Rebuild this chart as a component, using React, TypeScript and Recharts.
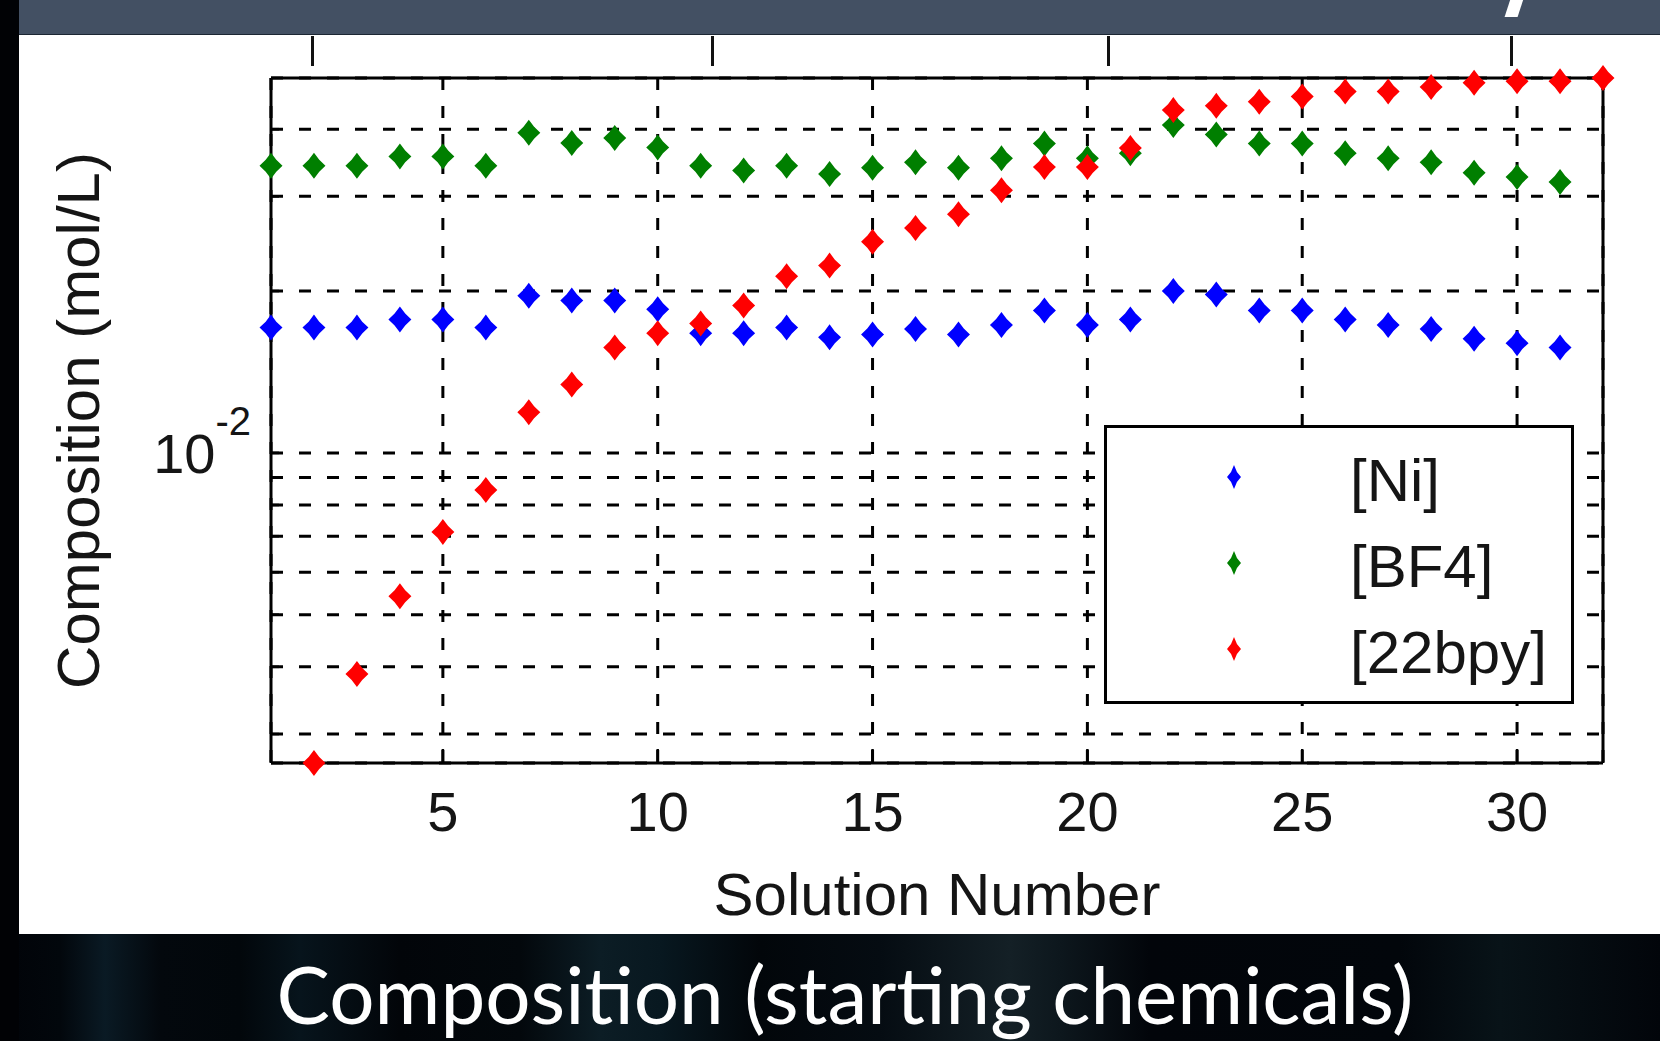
import React from "react";
import {
  ScatterChart,
  Scatter,
  XAxis,
  YAxis,
  CartesianGrid,
  Legend,
} from "recharts";

// solution numbers (the 22bpy series is plotted one step to the right)
const SOLUTIONS = [1, 2, 3, 4, 5, 6, 7, 8, 9, 10, 11, 12, 13, 14, 15, 16, 17, 18, 19, 20, 21, 22, 23, 24, 25, 26, 27, 28, 29, 30, 31];
const BPY_SOLUTIONS = [2, 3, 4, 5, 6, 7, 8, 9, 10, 11, 12, 13, 14, 15, 16, 17, 18, 19, 20, 21, 22, 23, 24, 25, 26, 27, 28, 29, 30, 31, 32];

// composition in mol/L
const NI = [
  0.0171, 0.0171, 0.0171, 0.0177, 0.0177, 0.0171, 0.0196, 0.0192, 0.0192, 0.0185,
  0.0167, 0.0167, 0.0171, 0.0164, 0.0166, 0.017, 0.0166, 0.0173, 0.0184, 0.0173,
  0.0177, 0.02, 0.0197, 0.0184, 0.0184, 0.0177, 0.0173, 0.017, 0.0163, 0.016, 0.0157,
];
const BF4 = [
  0.0342, 0.0342, 0.0342, 0.0356, 0.0356, 0.0342, 0.0394, 0.0377, 0.0385, 0.037,
  0.0342, 0.0335, 0.0342, 0.033, 0.0339, 0.0347, 0.0339, 0.0353, 0.0376, 0.0353,
  0.0361, 0.0407, 0.0391, 0.0376, 0.0376, 0.0361, 0.0353, 0.0347, 0.0332, 0.0326, 0.0319,
];
const BPY = [
  0.00265, 0.00388, 0.00541, 0.00713, 0.00853, 0.0119, 0.0134, 0.0157, 0.0167, 0.0174,
  0.0188, 0.0213, 0.0223, 0.0247, 0.0262, 0.0278, 0.0308, 0.034, 0.034, 0.0369,
  0.0434, 0.0442, 0.045, 0.046, 0.047, 0.047, 0.0479, 0.0488, 0.0491, 0.0491, 0.0498,
];

const SERIES_NAMES = ["[Ni]", "[BF4]", "[22bpy]"];
const X_TICKS = [5, 10, 15, 20, 25, 30];
const Y_TICKS = [0.003, 0.004, 0.005, 0.006, 0.007, 0.008, 0.009, 0.01, 0.02, 0.03, 0.04];
const X_DOMAIN: [number, number] = [1, 32];
const Y_DOMAIN: [number, number] = [0.00265, 0.0498];

const niData = SOLUTIONS.map((x, i) => ({ x, y: NI[i] }));
const bf4Data = SOLUTIONS.map((x, i) => ({ x, y: BF4[i] }));
const bpyData = BPY_SOLUTIONS.map((x, i) => ({ x, y: BPY[i] }));

const FONT = '"Liberation Sans", Arial, Helvetica, sans-serif';
const INK = "#151515";

// matlab-ish 'd' marker, sides a little pinched
const diamondPath = (cx: number, cy: number, w: number, h: number, k: number) =>
  `M${cx},${cy - h} L${cx + w * k},${cy - h * k} L${cx + w},${cy} L${cx + w * k},${cy + h * k} ` +
  `L${cx},${cy + h} L${cx - w * k},${cy + h * k} L${cx - w},${cy} L${cx - w * k},${cy - h * k} Z`;

const Diamond = (props: any) => {
  const { cx, cy, fill } = props;
  if (cx == null || cy == null) return null;
  return <path d={diamondPath(cx, cy, 11.5, 13, 0.46)} fill={fill} />;
};

const LeftTick = (props: any) => {
  const { x, y, payload } = props;
  if (Math.abs(payload.value - 0.01) > 1e-9) return null;
  return (
    <text x={x} y={y} textAnchor="end" fill={INK} fontFamily={FONT}>
      <tspan fontSize={56} dy={20}>10</tspan>
      <tspan fontSize={40} dy={-38}>-2</tspan>
    </text>
  );
};

const renderLegend = ({ payload }: any) => {
  // keep plotting order, not the alphabetical one
  const items = [...(payload || [])].sort(
    (a: any, b: any) => SERIES_NAMES.indexOf(a.value) - SERIES_NAMES.indexOf(b.value)
  );
  return (
    <div
      style={{
        width: 470,
        height: 279,
        boxSizing: "border-box",
        border: "3px solid #000",
        background: "#fff",
        paddingTop: 6,
      }}
    >
      {items.map((entry: any) => (
        <div key={entry.value} style={{ display: "flex", alignItems: "center", height: 86 }}>
          <svg width={16} height={26} style={{ marginLeft: 119 }}>
            <path d={diamondPath(8, 13, 7, 12, 0.42)} fill={entry.color} />
          </svg>
          <span
            style={{
              marginLeft: 108,
              marginTop: 8,
              fontFamily: FONT,
              fontSize: 60,
              lineHeight: 1,
              color: INK,
            }}
          >
            {entry.value}
          </span>
        </div>
      ))}
    </div>
  );
};

const abs = (s: React.CSSProperties): React.CSSProperties => ({ position: "absolute", ...s });

export default function App() {
  return (
    <div style={abs({ left: 0, top: 0, width: 1660, height: 1041, overflow: "hidden", background: "#fff" })}>
      {/* slide chrome */}
      <div style={abs({ left: 0, top: 0, width: 1660, height: 35, background: "#435063", borderBottom: "1px solid #1c2633", boxSizing: "border-box" })} />
      <div style={abs({ left: 1508, top: -4, width: 13, height: 21, background: "#fff", transform: "skewX(-18deg)", borderRadius: "0 0 4 5" })} />
      <div
        style={abs({
          left: 0,
          top: 934,
          width: 1660,
          height: 107,
          background:
            "linear-gradient(90deg, #010308 0px, #02070c 60px, #0a1a24 105px, #03080d 160px, #02070b 240px, #07141c 300px, #020509 400px, #03080c 520px, #0c1d25 600px, #081820 660px, #02060a 760px, #050c12 880px, #142026 1010px, #0d171d 1060px, #02050a 1150px, #02060b 1400px, #081318 1500px, #02050a 1660px)",
        })}
      >
        <div
          style={abs({
            left: 0,
            top: 19,
            width: 1690,
            textAlign: "center",
            fontFamily: "Lato, 'Open Sans', sans-serif",
            fontSize: 80,
            lineHeight: 1,
            color: "#fff",
            whiteSpace: "nowrap",
          })}
        >
          Composition (starting chemicals)
        </div>
      </div>
      <div style={abs({ left: 0, top: 0, width: 19, height: 1041, background: "#010205" })} />

      {/* axis ticks of the plot above, cut off by the slide */}
      {[312, 712, 1108, 1511].map((x) => (
        <div key={x} style={abs({ left: x - 1, top: 36, width: 3, height: 30, background: "#111" })} />
      ))}

      <div style={abs({ left: 0, top: 0 })}>
        <ScatterChart width={1660} height={1041} margin={{ top: 60, right: 40, bottom: 118, left: 20 }}>
          <CartesianGrid stroke="#000" strokeWidth={3} strokeDasharray="12 16" />
          <XAxis
            type="number"
            dataKey="x"
            domain={X_DOMAIN}
            ticks={X_TICKS}
            interval={0}
            height={160}
            tickSize={-14}
            tickMargin={42}
            axisLine={{ stroke: "#000", strokeWidth: 3 }}
            tickLine={{ stroke: "#000", strokeWidth: 2.5 }}
            tick={{ fill: INK, fontSize: 56, fontFamily: FONT }}
            label={{
              value: "Solution Number",
              position: "insideBottom",
              offset: 8,
              fill: INK,
              fontSize: 60,
              fontFamily: FONT,
            }}
          />
          <XAxis
            xAxisId="top"
            orientation="top"
            type="number"
            domain={X_DOMAIN}
            ticks={X_TICKS}
            interval={0}
            height={18}
            tickSize={-14}
            tick={false}
            axisLine={{ stroke: "#000", strokeWidth: 3 }}
            tickLine={{ stroke: "#000", strokeWidth: 2.5 }}
          />
          <YAxis
            type="number"
            dataKey="y"
            scale="log"
            domain={Y_DOMAIN}
            ticks={Y_TICKS}
            interval={0}
            width={251}
            tickSize={-8}
            tickMargin={28}
            axisLine={{ stroke: "#000", strokeWidth: 3 }}
            tickLine={{ stroke: "#000", strokeWidth: 2.5 }}
            tick={LeftTick}
            label={{
              value: "Composition (mol/L)",
              angle: -90,
              position: "insideLeft",
              offset: 58,
              fill: INK,
              fontSize: 60,
              fontFamily: FONT,
              style: { textAnchor: "middle" },
            }}
          />
          <YAxis
            yAxisId="right"
            orientation="right"
            type="number"
            scale="log"
            domain={Y_DOMAIN}
            ticks={Y_TICKS}
            interval={0}
            width={17}
            tickSize={-8}
            tick={false}
            axisLine={{ stroke: "#000", strokeWidth: 3 }}
            tickLine={{ stroke: "#000", strokeWidth: 2.5 }}
          />
          <Scatter name="[Ni]" data={niData} fill="#0000ff" shape={Diamond} isAnimationActive={false} />
          <Scatter name="[BF4]" data={bf4Data} fill="#007f00" shape={Diamond} isAnimationActive={false} />
          <Scatter name="[22bpy]" data={bpyData} fill="#ff0000" shape={Diamond} isAnimationActive={false} />
          <Legend
            layout="vertical"
            align="center"
            verticalAlign="middle"
            content={renderLegend}
            wrapperStyle={{ left: 1104, top: 425, width: 470, height: 279 }}
          />
        </ScatterChart>
      </div>
    </div>
  );
}
